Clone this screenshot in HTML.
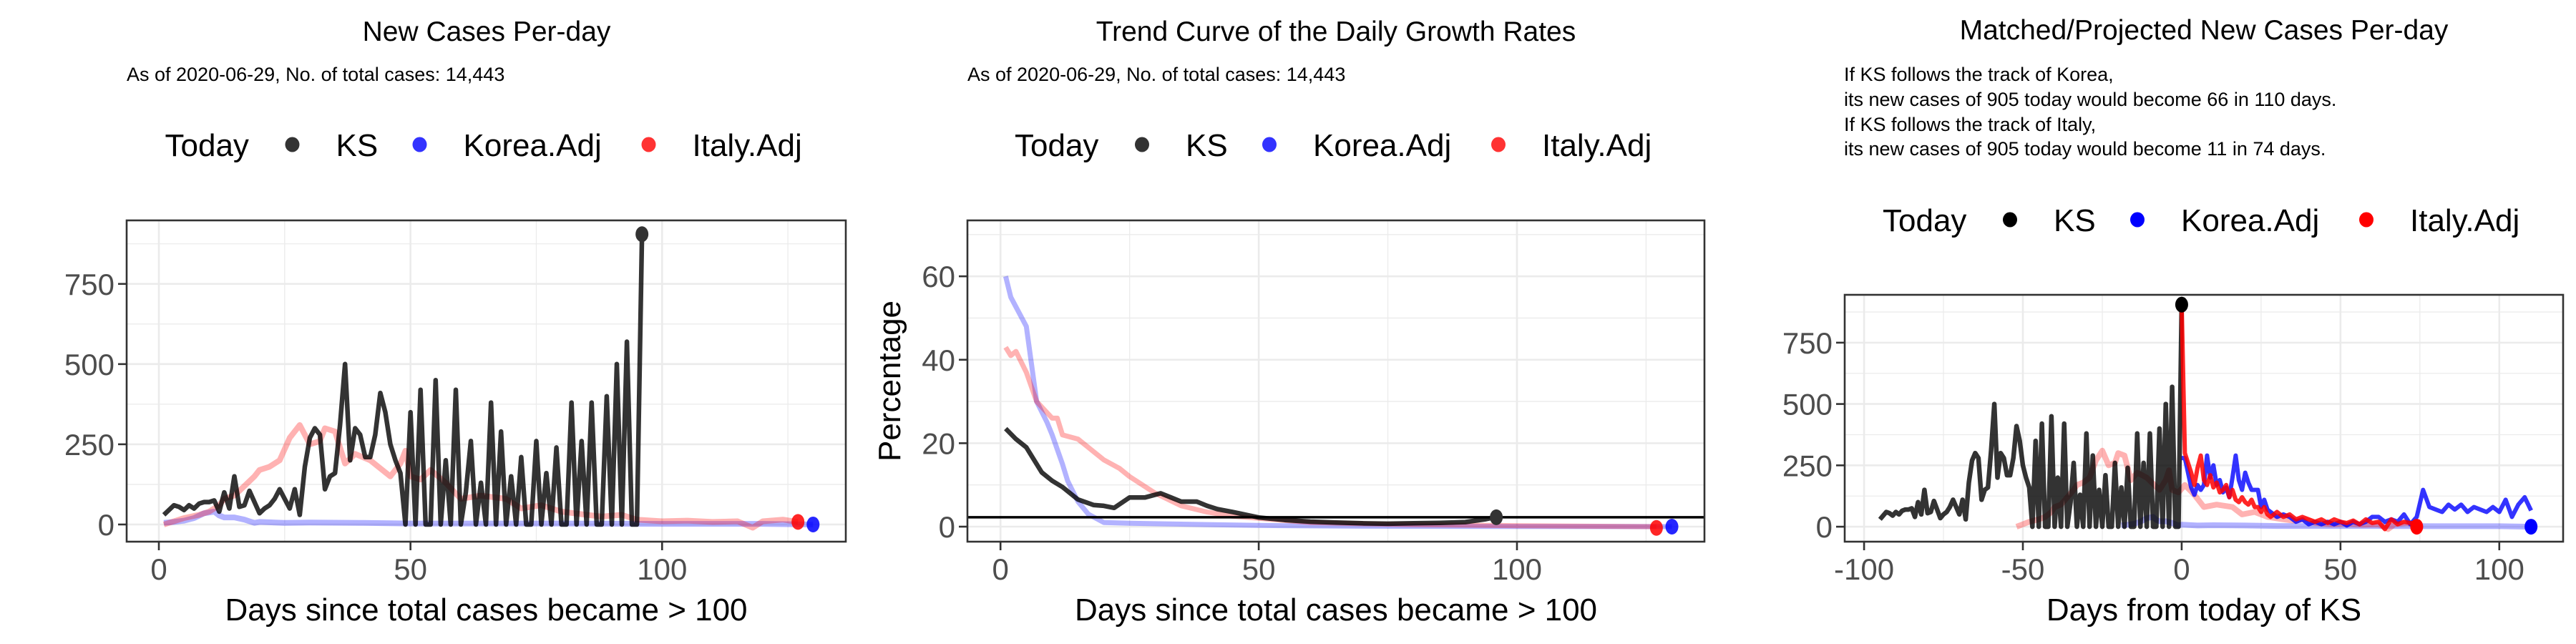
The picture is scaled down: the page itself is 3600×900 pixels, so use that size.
<!DOCTYPE html>
<html><head><meta charset="utf-8">
<style>
html,body{margin:0;padding:0;background:#fff;}
svg{display:block;font-family:"Liberation Sans",Arial,sans-serif;}
</style></head>
<body>
<svg id="chart" width="3600" height="900" viewBox="0 0 3600 900" xmlns="http://www.w3.org/2000/svg">
<rect width="3600" height="900" fill="#fff"/>
<defs>
<clipPath id="c1"><rect x="177" y="308" width="1005" height="449"/></clipPath>
<clipPath id="c2"><rect x="1352" y="308" width="1030" height="449"/></clipPath>
<clipPath id="c3"><rect x="2578" y="412" width="1004" height="345"/></clipPath>
</defs>

<text x="680" y="57" font-size="39" text-anchor="middle">New Cases Per-day</text>
<text x="177" y="113" font-size="27">As of 2020-06-29, No. of total cases: 14,443</text>
<text x="1867" y="57" font-size="39" text-anchor="middle">Trend Curve of the Daily Growth Rates</text>
<text x="1352" y="113" font-size="27">As of 2020-06-29, No. of total cases: 14,443</text>
<text x="3080" y="55" font-size="39" text-anchor="middle">Matched/Projected New Cases Per-day</text>
<g font-size="27">
<text x="2577" y="113">If KS follows the track of Korea,</text>
<text x="2577" y="148">its new cases of 905 today would become 66 in 110 days.</text>
<text x="2577" y="183">If KS follows the track of Italy,</text>
<text x="2577" y="217">its new cases of 905 today would become 11 in 74 days.</text>
</g>
<g id="root"></g>
</svg>
<script>
// ---- data ----
const ksDays = Array.from({length:96},(_, i)=>i+1);
const ksCases = [30,45,60,55,45,60,50,65,70,70,75,40,100,50,150,55,60,105,70,35,50,60,80,110,80,50,110,30,180,270,300,280,110,150,160,310,500,200,300,280,210,210,280,410,350,250,200,160,0,350,0,420,0,0,450,0,200,0,420,0,100,260,0,130,0,380,0,290,0,150,0,210,0,0,260,0,160,0,240,0,0,380,0,260,0,380,0,0,400,0,500,0,570,0,0,905];
const koreaDays = [1,3,5,7,9,11,12,13,15,17,18,19,20,25,30,40,50,60,80,100,120,130];
const koreaCases = [5,8,12,20,35,40,28,22,22,15,10,5,8,5,6,5,3,3,3,2,2,0];
const italyDays = [1,3,5,8,10,12,13,15,17,19,20,22,24,26,28,30,32,33,35,37,39,42,46,48,49,50,52,54,57,60,64,69,72,76,80,85,88,92,95,100,105,110,115,118,120,124,127];
const italyCases = [0,10,20,30,40,60,80,90,120,150,170,180,200,270,310,250,260,300,290,190,220,200,150,190,230,150,140,170,130,80,90,80,50,60,40,30,25,30,15,10,12,8,10,-10,10,15,8];
const ksRateDays = [1,3,5,8,10,12,15,18,20,22,25,28,31,33,35,38,40,42,45,50,55,60,65,70,75,80,85,90,94,96];
const ksRate = [23.5,21,19,13,11,9.5,6.5,5.2,5,4.5,7,7,8,7,6,6,5,4.2,3.5,2.2,1.6,1.2,1,0.8,0.7,0.8,0.9,1.1,1.8,2.3];
const koreaRateDays = [1,2,5,7,9,10,12,13,15,17,20,25,30,40,50,70,100,130];
const koreaRate = [60,55,48,30,25,22,15,11,6,3,1,0.8,0.7,0.5,0.3,0.1,0.05,0];
const italyRateDays = [1,2,3,5,7,10,11,12,15,17,20,23,25,30,35,40,45,50,60,70,80,100,127];
const italyRate = [43,41,42,37,30,26,26,22,21,19,16,14,12,8,5,3.5,2.5,2,1,0.7,0.5,0.2,0];
const todayRate = 2.25;
const projItalyDays = [0,1,2,3,4,5,6,7,8,9,10,11,12,13,14,15,16,17,18,19,20,21,22,23,24,25,26,27,28,30,32,34,36,38,40,42,44,46,48,50,52,54,56,58,60,62,64,66,68,70,72,74];
const projItaly = [905,300,260,220,170,240,290,190,170,210,160,180,140,150,170,120,150,110,100,120,100,90,110,80,80,60,80,50,40,60,40,50,30,40,30,20,30,15,30,20,15,25,10,30,15,20,-10,30,10,20,15,11];
const projKoreaDays = [0,1,2,3,4,5,6,7,8,9,10,11,12,13,14,15,16,17,18,19,20,21,22,23,24,25,26,27,28,30,32,34,36,38,40,42,44,46,48,50,52,54,56,58,60,62,64,66,68,70,72,74,76,78,80,82,84,86,88,90,92,94,96,98,100,102,104,106,108,110];
const projKorea = [280,280,220,160,130,170,150,170,290,200,250,170,190,140,160,120,200,290,190,150,220,180,150,150,150,80,110,70,60,40,50,40,20,30,10,20,10,20,10,20,5,20,10,20,40,40,20,30,20,50,10,40,150,80,70,60,90,70,90,60,80,70,60,80,60,110,40,90,120,66];
const ksShift = -96, koreaShift = -20, italyShift = -53;

const NS = "http://www.w3.org/2000/svg";
const root = document.getElementById('root');
function el(tag, attrs, parent){const e=document.createElementNS(NS,tag);for(const k in attrs)e.setAttribute(k,attrs[k]);(parent||root).appendChild(e);return e;}

function panel(p){
  const sx=v=>p.x0+(v-p.xmin)*(p.x1-p.x0)/(p.xmax-p.xmin);
  const sy=v=>p.y1-(v-p.ymin)*(p.y1-p.y0)/(p.ymax-p.ymin);
  const g=el('g',{});
  
  
  p.xminor.forEach(v=>{const l=el('line',{x1:sx(v),x2:sx(v),y1:p.y0,y2:p.y1,stroke:'#ebebeb','stroke-width':1.3},g);
    });
  p.yminor.forEach(v=>{const l=el('line',{x1:p.x0,x2:p.x1,y1:sy(v),y2:sy(v),stroke:'#ebebeb','stroke-width':1.3},g);
    });
  p.xticks.forEach(v=>{const l=el('line',{x1:sx(v),x2:sx(v),y1:p.y0,y2:p.y1,stroke:'#ebebeb','stroke-width':2.6},g);
    });
  p.yticks.forEach(v=>{const l=el('line',{x1:p.x0,x2:p.x1,y1:sy(v),y2:sy(v),stroke:'#ebebeb','stroke-width':2.6},g);
    });
  const cg=el('g',{'clip-path':'url(#'+p.clip+')'},g);
  p.series.forEach(s=>{
    const d=s.xs.map((x,i)=>(i?'L':'M')+sx(x+(s.shift||0)).toFixed(1)+','+sy(s.ys[i]).toFixed(1)).join('');
    const path=el('path',{d:d,fill:'none',stroke:s.color,'stroke-width':s.w,'stroke-linejoin':'round'},cg);
    
    
  });
  if(p.hline!==undefined){const l=el('line',{x1:p.x0,x2:p.x1,y1:sy(p.hline),y2:sy(p.hline),stroke:'#000','stroke-width':3.5},cg);
    }
  p.dots.forEach(d=>{const c=el('ellipse',{cx:sx(d.x),cy:sy(d.y),rx:9,ry:11,fill:d.color},cg);
    
    });
  const b=el('rect',{x:p.x0,y:p.y0,width:p.x1-p.x0,height:p.y1-p.y0,fill:'none',stroke:'#333','stroke-width':2.6},g);
  
  p.xticks.forEach(v=>{el('line',{x1:sx(v),x2:sx(v),y1:p.y1,y2:p.y1+12,stroke:'#333','stroke-width':2.6},g);
    const t=el('text',{x:sx(v),y:810,'font-size':42,fill:'#4d4d4d','text-anchor':'middle'},g);t.textContent=v;
    });
  p.yticks.forEach(v=>{el('line',{x1:p.x0-12,x2:p.x0,y1:sy(v),y2:sy(v),stroke:'#333','stroke-width':2.6},g);
    const t=el('text',{x:p.x0-17,y:sy(v)+15,'font-size':42,fill:'#4d4d4d','text-anchor':'end'},g);t.textContent=v;
    });
  const xt=el('text',{x:(p.x0+p.x1)/2,y:867,'font-size':44,'text-anchor':'middle'},g);xt.textContent=p.xtitle;
  
  if(p.ytitle){const yt=el('text',{x:0,y:0,'font-size':44,'text-anchor':'middle',transform:'translate(1258,'+((p.y0+p.y1)/2)+') rotate(-90)'},g);yt.textContent=p.ytitle;
    }
  const cx=(p.x0+p.x1)/2, ly=p.legendY;
  const lg=el('g',{},g);
  
  const items=[['Today',0,null],['KS',239,p.lc[0]],['Korea.Adj',417,p.lc[1]],['Italy.Adj',737,p.lc[2]]];
  const start=cx-449;
  items.forEach(it=>{
    if(it[2]){const c=el('ellipse',{cx:start+it[1]-61,cy:ly-16,rx:10,ry:10.5,fill:it[2]},lg);
      }
    const t=el('text',{x:start+it[1],y:ly,'font-size':44},lg);t.textContent=it[0];
    
  });
}

const ksC='rgba(0,0,0,0.8)', blP='rgba(0,0,255,0.3)', rdP='rgba(255,0,0,0.3)';
panel({name:'panel-new-cases',x0:177,x1:1182,y0:308,y1:757,xmin:-6.4,xmax:136.5,ymin:-53.6,ymax:948,clip:'c1',
  xticks:[0,50,100],xminor:[25,75,125],yticks:[0,250,500,750],yminor:[125,375,625,875],
  xtitle:'Days since total cases became > 100',legendY:218,lc:['#333','rgba(0,0,255,0.8)','rgba(255,0,0,0.8)'],
  series:[{name:'korea-adj-line',xs:koreaDays,ys:koreaCases,color:blP,w:8},
          {name:'italy-adj-line',xs:italyDays,ys:italyCases,color:rdP,w:8},
          {name:'ks-line',xs:ksDays,ys:ksCases,color:ksC,w:6.5}],
  dots:[{name:'ks-today-point',x:96,y:905,color:'#333'},{name:'italy-end-point',x:127,y:8,color:'rgba(255,0,0,0.85)'},{name:'korea-end-point',x:130,y:0,color:'rgba(0,0,255,0.85)'}]});
panel({name:'panel-growth-rates',x0:1352,x1:2382,y0:308,y1:757,xmin:-6.4,xmax:136.3,ymin:-3.6,ymax:73.4,clip:'c2',
  xticks:[0,50,100],xminor:[25,75,125],yticks:[0,20,40,60],yminor:[10,30,50,70],
  xtitle:'Days since total cases became > 100',ytitle:'Percentage',legendY:218,lc:['#333','rgba(0,0,255,0.8)','rgba(255,0,0,0.8)'],
  hline:todayRate,
  series:[{name:'korea-rate-line',xs:koreaRateDays,ys:koreaRate,color:blP,w:7},
          {name:'italy-rate-line',xs:italyRateDays,ys:italyRate,color:rdP,w:7},
          {name:'ks-rate-line',xs:ksRateDays,ys:ksRate,color:ksC,w:6.5}],
  dots:[{name:'ks-today-point',x:96,y:todayRate,color:'#333'},{name:'italy-end-point',x:127,y:-0.3,color:'rgba(255,0,0,0.85)'},{name:'korea-end-point',x:130,y:0,color:'rgba(0,0,255,0.85)'}]});
panel({name:'panel-projection',x0:2578,x1:3582,y0:412,y1:757,xmin:-106.1,xmax:120.1,ymin:-61,ymax:945,clip:'c3',
  xticks:[-100,-50,0,50,100],xminor:[-75,-25,25,75],yticks:[0,250,500,750],yminor:[125,375,625,875],
  xtitle:'Days from today of KS',legendY:323,lc:['#000','#0000ff','#ff0000'],
  series:[{name:'korea-adj-line',xs:koreaDays,ys:koreaCases,color:blP,w:8,shift:koreaShift},
          {name:'italy-adj-line',xs:italyDays,ys:italyCases,color:rdP,w:8,shift:italyShift},
          {name:'ks-line',xs:ksDays,ys:ksCases,color:ksC,w:6.5,shift:ksShift},
          {name:'korea-projection-line',xs:projKoreaDays,ys:projKorea,color:'rgba(0,0,255,0.8)',w:6},
          {name:'italy-projection-line',xs:projItalyDays,ys:projItaly,color:'rgba(255,0,0,0.85)',w:6}],
  dots:[{name:'ks-today-point',x:0,y:905,color:'#000'},{name:'italy-end-point',x:74,y:0,color:'#ff0000'},{name:'korea-end-point',x:110,y:0,color:'#0000ff'}]});
</script>
</body></html>
